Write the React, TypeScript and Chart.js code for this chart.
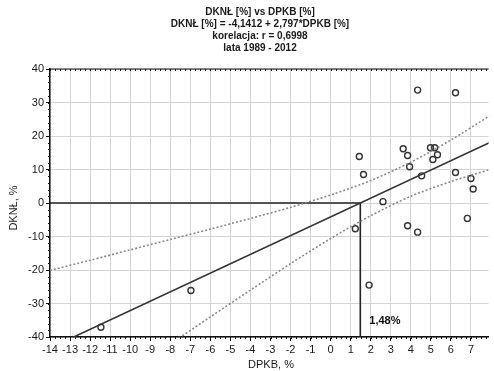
import React, { useEffect, useRef } from "react";
import { Chart, registerables } from "chart.js";

Chart.register(...registerables);

const titleLines = [
  "DKNŁ [%] vs DPKB [%]",
  "DKNŁ [%] = -4,1412 + 2,797*DPKB [%]",
  "korelacja: r = 0,6998",
  "lata 1989 - 2012",
];
const xAxisTitle = "DPKB, %";
const yAxisTitle = "DKNŁ, %";

const dpkb = [4.34, 6.23, 1.43, 3.62, 3.84, 4.98, 5.19, 5.33, 5.1, 3.94, 1.64, 4.54, 6.23, 7.0, 7.11, 2.61, 1.23, 3.84, 4.34, 6.82, 1.92, -6.97, -11.46];
const dknl = [33.7, 32.9, 13.9, 16.2, 14.2, 16.5, 16.5, 14.4, 13.0, 10.8, 8.5, 8.1, 9.1, 7.3, 4.2, 0.4, -7.7, -6.8, -8.7, -4.6, -24.5, -26.1, -37.1];

const regX = [-14, 8];
const regY = [-43.3, 18.2];

const bandX = [-14, -12, -10, -8, -6, -4, -2, 0, 2, 4, 6, 8];
const bandUpper = [-20.1, -17.1, -14.0, -10.9, -7.8, -4.6, -1.3, 2.4, 6.7, 12.2, 18.8, 26.3];
const bandLower = [-66.5, -58.3, -50.2, -42.1, -34.0, -26.0, -18.1, -10.6, -3.8, 2.0, 6.4, 10.1];

const crossX = 1.48;
const crossLabel = "1,48%";

const xMin = -14;
const xMax = 7.88;
const yMin = -40;
const yMax = 40;

const FONT = "'Liberation Sans', Arial, sans-serif";

const overlay = {
  id: "overlay",
  afterDraw(chart: any) {
    const { ctx, chartArea, scales } = chart;
    const xs = scales.x;
    const ys = scales.y;
    ctx.save();
    // titles
    ctx.fillStyle = "#1a1a1a";
    ctx.textAlign = "center";
    ctx.textBaseline = "middle";
    ctx.font = `bold 10px ${FONT}`;
    const ty = [12, 24.5, 36.5, 48.5];
    titleLines.forEach((t, i) => ctx.fillText(t, 260, ty[i]));
    // axis titles
    ctx.font = `11px ${FONT}`;
    ctx.fillText(xAxisTitle, 271, 365);
    ctx.save();
    ctx.translate(14, 208);
    ctx.rotate(-Math.PI / 2);
    ctx.fillText(yAxisTitle, 0, 0);
    ctx.restore();
    // top border
    ctx.strokeStyle = "#111";
    ctx.lineWidth = 1.2;
    ctx.beginPath();
    ctx.moveTo(chartArea.left, chartArea.top);
    ctx.lineTo(chartArea.right, chartArea.top);
    ctx.stroke();
    // minor ticks
    ctx.lineWidth = 1;
    ctx.beginPath();
    for (let v = xMin; v <= xMax; v += 0.25) {
      const px = Math.round(xs.getPixelForValue(v)) + 0.5;
      ctx.moveTo(px, chartArea.top);
      ctx.lineTo(px, chartArea.top + 2);
      ctx.moveTo(px, chartArea.bottom);
      ctx.lineTo(px, chartArea.bottom + 2);
    }
    for (let v = yMin; v <= yMax; v += 2) {
      const py = Math.round(ys.getPixelForValue(v)) + 0.5;
      ctx.moveTo(chartArea.left, py);
      ctx.lineTo(chartArea.left - 2, py);
    }
    ctx.stroke();
    // cross label
    ctx.font = `bold 11px ${FONT}`;
    ctx.textAlign = "left";
    ctx.fillStyle = "#111";
    ctx.fillText(crossLabel, xs.getPixelForValue(crossX) + 9, ys.getPixelForValue(yMin) - 16);
    ctx.restore();
  },
};

export default function App() {
  const ref = useRef<HTMLCanvasElement>(null);
  useEffect(() => {
    if (!ref.current) return;
    const chart = new Chart(ref.current, {
      type: "scatter",
      data: {
        datasets: [
          {
            type: "line",
            data: bandX.map((x, i) => ({ x, y: bandUpper[i] })),
            borderColor: "#8a8a8a",
            borderWidth: 1.6,
            borderDash: [2, 2],
            pointRadius: 0,
            tension: 0.3,
            fill: false,
          },
          {
            type: "line",
            data: bandX.map((x, i) => ({ x, y: bandLower[i] })),
            borderColor: "#8a8a8a",
            borderWidth: 1.6,
            borderDash: [2, 2],
            pointRadius: 0,
            tension: 0.3,
            fill: false,
          },
          {
            type: "line",
            data: regX.map((x, i) => ({ x, y: regY[i] })),
            borderColor: "#333",
            borderWidth: 1.6,
            pointRadius: 0,
            fill: false,
          },
          {
            type: "line",
            data: [
              { x: xMin, y: 0 },
              { x: crossX, y: 0 },
              { x: crossX, y: yMin },
            ],
            borderColor: "#222",
            borderWidth: 1.6,
            pointRadius: 0,
            fill: false,
          },
          {
            data: dpkb.map((x, i) => ({ x, y: dknl[i] })),
            pointRadius: 3,
            pointBorderWidth: 1.4,
            borderColor: "#333",
            backgroundColor: "rgba(255,255,255,0)",
            pointStyle: "circle",
          },
        ],
      },
      options: {
        animation: false,
        responsive: false,
        devicePixelRatio: 1,
        layout: { padding: { top: 69, right: 0, left: 0, bottom: 0 } },
        plugins: { legend: { display: false }, tooltip: { enabled: false }, title: { display: false } },
        scales: {
          x: {
            type: "linear",
            min: xMin,
            max: xMax,
            afterFit: (s: any) => {
              s.height = 34;
            },
            border: { color: "#111", width: 1.5 },
            grid: { color: "#d4d4d4", lineWidth: 1, tickLength: 4, tickColor: "#111" },
            ticks: {
              stepSize: 1,
              includeBounds: false,
              autoSkip: false,
              maxRotation: 0,
              padding: 2,
              color: "#1a1a1a",
              font: { family: FONT, size: 11 },
            },
          },
          y: {
            type: "linear",
            min: yMin,
            max: yMax,
            afterFit: (s: any) => {
              s.width = 50;
            },
            border: { color: "#111", width: 1.5 },
            grid: { color: "#d4d4d4", lineWidth: 1, tickLength: 4, tickColor: "#111" },
            ticks: {
              stepSize: 10,
              padding: 2,
              color: "#1a1a1a",
              font: { family: FONT, size: 11 },
            },
          },
        },
      },
      plugins: [overlay],
    } as any);
    return () => chart.destroy();
  }, []);
  return (
    <div style={{ position: "absolute", left: 0, top: 0, width: 494, height: 371, background: "#fff" }}>
      <canvas ref={ref} width={494} height={371} style={{ width: 494, height: 371, display: "block" }} />
    </div>
  );
}
